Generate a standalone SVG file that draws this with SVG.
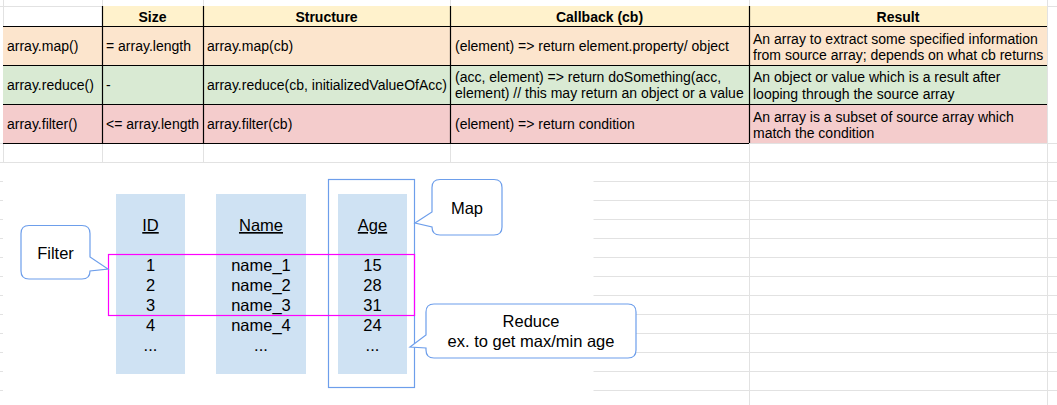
<svg xmlns="http://www.w3.org/2000/svg" width="1057" height="405" viewBox="0 0 1057 405">
<style>
text{font-family:"Liberation Sans",Arial,sans-serif;fill:#000}
.t{font-size:14px}
.h{font-size:14px;font-weight:bold;text-anchor:middle}
.d{font-size:16.5px;text-anchor:middle}
.u{text-decoration:underline}
.grid{stroke:#e2e2e2;stroke-width:1;fill:none}
.bd{stroke:#000;stroke-width:1.2;fill:none}
.col{fill:#cfe2f3}
.call{fill:#fff;stroke:#6d9eeb;stroke-width:1.2}
</style>
<rect width="1057" height="405" fill="#fff"/>
<g id="gridlines" class="grid">
<path d="M0,6.5H1057M0,143.5H1057M0,162.5H1057M0,181.5H1057M0,200.5H1057M0,219.5H1057M0,238.5H1057M0,257.5H1057M0,276.5H1057M0,295.5H1057M0,314.5H1057M0,333.5H1057M0,352.5H1057M0,371.5H1057M0,390.5H1057"/>
<path d="M3.5,0V405M102.5,0V405M203.5,0V405M450.5,0V405M749.5,0V405M1047.5,0V405"/>
</g>
<g id="table">
<g id="header">
<rect x="102" y="6" width="945" height="20" fill="#fff2cc"/>
<text class="h" x="152.5" y="22">Size</text>
<text class="h" x="326.5" y="22">Structure</text>
<text class="h" x="599.5" y="22">Callback (cb)</text>
<text class="h" x="898" y="22">Result</text>
</g>
<g id="row-map">
<rect x="3" y="26" width="1044" height="39" fill="#fce5cd"/>
<text class="t" x="7" y="51">array.map()</text>
<text class="t" x="106" y="51">= array.length</text>
<text class="t" x="207" y="51">array.map(cb)</text>
<text class="t" x="455" y="51">(element) =&gt; return element.property/ object</text>
<text class="t" x="753" y="44">An array to extract some specified information</text>
<text class="t" x="753" y="60">from source array; depends on what cb returns</text>
</g>
<g id="row-reduce">
<rect x="3" y="65" width="1044" height="39" fill="#d9ead3"/>
<text class="t" x="7" y="90">array.reduce()</text>
<text class="t" x="106" y="90">-</text>
<text class="t" x="207" y="90">array.reduce(cb, initializedValueOfAcc)</text>
<text class="t" x="455" y="82">(acc, element) =&gt; return doSomething(acc,</text>
<text class="t" x="455" y="98">element) // this may return an object or a value</text>
<text class="t" x="753" y="82">An object or value which is a result after</text>
<text class="t" x="753" y="99">looping through the source array</text>
</g>
<g id="row-filter">
<rect x="3" y="104" width="1044" height="39" fill="#f4cccc"/>
<text class="t" x="7" y="129">array.filter()</text>
<text class="t" x="106" y="129">&lt;= array.length</text>
<text class="t" x="207" y="129">array.filter(cb)</text>
<text class="t" x="455" y="129">(element) =&gt; return condition</text>
<text class="t" x="753" y="122">An array is a subset of source array which</text>
<text class="t" x="753" y="138">match the condition</text>
</g>
<g id="borders" class="bd">
<path d="M3,26.5H1047M3,65.5H1047M3,104.5H1047M3,143.5H749"/>
<path d="M102.5,6V143M203.5,6V143M450.5,6V143M749.5,6V143"/>
</g>
</g>
<rect id="drawing-bg" x="3" y="163" width="590.5" height="242" fill="#fff"/>
<g id="col-id">
<rect class="col" x="116" y="194" width="69" height="180"/>
<text class="d u" x="150.5" y="231">ID</text>
<text class="d" x="150.5" y="271">1</text>
<text class="d" x="150.5" y="291">2</text>
<text class="d" x="150.5" y="311">3</text>
<text class="d" x="150.5" y="331">4</text>
<text class="d" x="150.5" y="351">...</text>
</g>
<g id="col-name">
<rect class="col" x="216" y="194" width="90" height="180"/>
<text class="d u" x="261" y="231">Name</text>
<text class="d" x="261" y="271">name_1</text>
<text class="d" x="261" y="291">name_2</text>
<text class="d" x="261" y="311">name_3</text>
<text class="d" x="261" y="331">name_4</text>
<text class="d" x="261" y="351">...</text>
</g>
<g id="col-age">
<rect class="col" x="338" y="194" width="69" height="180"/>
<text class="d u" x="372.5" y="231">Age</text>
<text class="d" x="372.5" y="271">15</text>
<text class="d" x="372.5" y="291">28</text>
<text class="d" x="372.5" y="311">31</text>
<text class="d" x="372.5" y="331">24</text>
<text class="d" x="372.5" y="351">...</text>
</g>
<g id="map-frame">
<rect x="328.5" y="179.5" width="86" height="208" fill="none" stroke="#6d9eeb" stroke-width="1.2"/>
</g>
<g id="filter-frame">
<rect x="108.5" y="254.5" width="306" height="61" fill="none" stroke="#ff00ff" stroke-width="1.2"/>
</g>
<g id="callout-filter">
<path class="call" d="M29,225.5H82Q90,225.5 90,233.5V257L108,269L90,271Q90,279 82,279H29Q21,279 21,271V233.5Q21,225.5 29,225.5Z"/>
<text class="d" x="55.5" y="259">Filter</text>
</g>
<g id="callout-map">
<path class="call" d="M440,179.5H494Q502,179.5 502,187.5V227Q502,235 494,235H440Q432,235 432,227L415,223L432,212V187.5Q432,179.5 440,179.5Z"/>
<text class="d" x="467" y="214">Map</text>
</g>
<g id="callout-reduce">
<path class="call" d="M434,304H628Q636,304 636,312V350Q636,358 628,358H434Q426,358 426,350V348L410,347L426,335V312Q426,304 434,304Z"/>
<text class="d" x="531" y="327">Reduce</text>
<text class="d" x="531" y="347">ex. to get max/min age</text>
</g>
</svg>
